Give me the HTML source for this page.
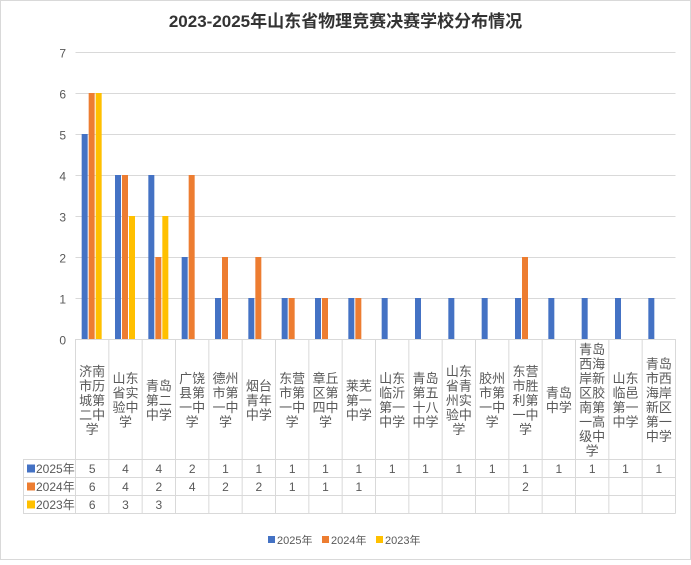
<!DOCTYPE html>
<html><head><meta charset="utf-8"><style>
body{margin:0;background:#fff;}
svg text{font-family:"Liberation Sans","Noto Sans CJK SC",sans-serif;}
</style></head><body>
<svg width="691" height="560" xmlns="http://www.w3.org/2000/svg">
<rect x="0.5" y="0.5" width="690" height="559" fill="#fff" stroke="#d9d9d9"/>
<text x="345.5" y="27" text-anchor="middle" font-size="17" font-weight="bold" fill="#333">2023-2025年山东省物理竞赛决赛学校分布情况</text>
<g id="c"></g>
</svg>
<script>
const g=document.getElementById('c');const NS='http://www.w3.org/2000/svg';
function el(t,a,txt){const e=document.createElementNS(NS,t);for(const k in a)e.setAttribute(k,a[k]);if(txt!==undefined)e.textContent=txt;g.appendChild(e);return e;}
const L=75.5,R=675.5,Y0=339,U=41,W=(R-L)/18;
for(let i=0;i<=7;i++){const y=Y0-i*U+0.5;el('line',{x1:L,x2:R,y1:y,y2:y,stroke:'#d9d9d9'});el('text',{x:66,y:y+5,'text-anchor':'end','font-size':12,fill:'#595959'},i);}
const labels=[["济南","市历","城第","二中","学"],["山东","省实","验中","学"],["青岛","第二","中学"],["广饶","县第","一中","学"],["德州","市第","一中","学"],["烟台","青年","中学"],["东营","市第","一中","学"],["章丘","区第","四中","学"],["莱芜","第一","中学"],["山东","临沂","第一","中学"],["青岛","第五","十八","中学"],["山东","省青","州实","验中","学"],["胶州","市第","一中","学"],["东营","市胜","利第","一中","学"],["青岛","中学"],["青岛","西海","岸新","区胶","南第","一高","级中","学"],["山东","临邑","第一","中学"],["青岛","市西","海岸","新区","第一","中学"]];
const d=[[5,4,4,2,1,1,1,1,1,1,1,1,1,1,1,1,1,1],[6,4,2,4,2,2,1,1,1,null,null,null,null,2,null,null,null,null],[6,3,3,null,null,null,null,null,null,null,null,null,null,null,null,null,null,null]];
const col=['#4472C4','#ED7D31','#FFC000'];const yrs=['2025年','2024年','2023年'];
const rows=[459.5,477.5,495.5,513.5];
el('line',{x1:L,x2:L,y1:339,y2:513.5,stroke:'#d9d9d9'});
for(let i=1;i<=18;i++){const x=L+i*W;el('line',{x1:x,x2:x,y1:339,y2:513.5,stroke:'#d9d9d9'});}
rows.forEach(y=>el('line',{x1:23,x2:R,y1:y,y2:y,stroke:'#d9d9d9'}));
el('line',{x1:23.5,x2:23.5,y1:459.5,y2:513.5,stroke:'#d9d9d9'});
for(let i=0;i<18;i++){const cx=L+i*W+W/2;
 for(let s=0;s<3;s++){const v=d[s][i];if(v){const x=cx-10.5+s*7;el('rect',{x:x,y:Y0-v*U,width:6,height:v*U,fill:col[s]});}
  if(v!=null)el('text',{x:cx,y:rows[s]+13.5,'text-anchor':'middle','font-size':12,fill:'#595959'},v);}
 const lb=labels[i],lh=14.5,top=400-lb.length*lh/2;
 lb.forEach((t,j)=>el('text',{x:cx,y:top+j*lh+12,'text-anchor':'middle','font-size':13,fill:'#595959'},t));
}
for(let s=0;s<3;s++){el('rect',{x:27,y:rows[s]+5,width:8,height:8,fill:col[s]});el('text',{x:36,y:rows[s]+13.5,'font-size':12,fill:'#595959'},yrs[s]);}
const lx=[268,322,376];
for(let s=0;s<3;s++){el('rect',{x:lx[s],y:536,width:7,height:7,fill:col[s]});el('text',{x:lx[s]+9,y:544,'font-size':11,fill:'#595959'},yrs[s]);}
</script>
</body></html>
